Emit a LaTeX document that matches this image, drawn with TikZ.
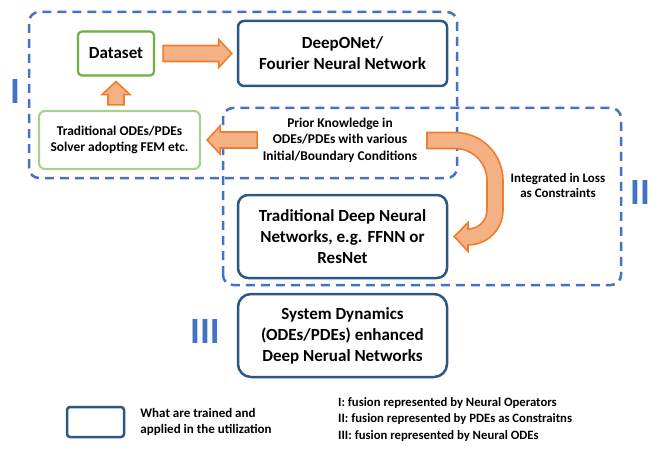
\documentclass[tikz,border=0pt]{standalone}
\usepackage{fontspec}
\setmainfont{Carlito}
\usetikzlibrary{calc}
\usetikzlibrary{positioning}

\definecolor{boxblue}{HTML}{2B5783}
\definecolor{dashblue}{HTML}{4472C4}
\definecolor{datagreen}{HTML}{70AD47}
\definecolor{solvergreen}{HTML}{A9D18E}
\definecolor{arrowfill}{HTML}{F4B183}
\definecolor{arrowline}{HTML}{ED7D31}

\begin{document}
\begin{tikzpicture}[x=1pt, y=1pt, line join=round]
    \tikzset{
        trained/.style={draw=boxblue, line width=2.5pt, align=center, inner sep=0pt,
            minimum width=209pt, font=\bfseries\fontsize{17}{21}\selectfont},
        fusionbox/.style={draw=dashblue, line width=2.5pt, dash pattern=on 9pt off 6pt, rounded corners=10pt},
        note/.style={align=center, inner sep=0pt, font=\bfseries\fontsize{13.4}{16.4}\selectfont},
        numeral/.style={inner sep=0pt, text=dashblue, font=\bfseries\fontsize{37}{40}\selectfont},
        fatarrow/.style={draw=arrowline, fill=arrowfill, line width=1.6pt, line join=miter,
            to path={let \p1=(\tikztostart), \p2=(\tikztotarget), \p3=($(\p2)!13pt!(\p1)$) in
                ($(\p1)!8pt!90:(\p2)$) -- ($(\p3)!8pt!-90:(\p1)$) -- ($(\p3)!14pt!-90:(\p1)$) -- (\p2)
                -- ($(\p3)!14pt!90:(\p1)$) -- ($(\p3)!8pt!90:(\p1)$) -- ($(\p1)!8pt!-90:(\p2)$) -- cycle}}
    }
    \useasboundingbox (0,0) rectangle (655,448);

    % the two fusion regions
    \draw [fusionbox] (29,270) rectangle (457,436);
    \draw [fusionbox] (223,163) rectangle (621,340);
    \node [numeral] (num1) at (15,356) {I};
    \node [numeral] (num2) at (640,255) {II};
    \node [numeral] (num3) at (205,116) {III};

    \node [draw=datagreen, line width=2.2pt, rounded corners=4pt, minimum width=76pt, minimum height=44pt,
        inner sep=0pt, font=\bfseries\fontsize{17}{21}\selectfont] (dataset) at (116,394.5) {Dataset};
    \node [trained, rounded corners=6pt, minimum height=65pt] (deeponet) at (342.5,394.5) {DeepONet/\\Fourier Neural Network};
    \node [note, draw=solvergreen, line width=2.2pt, rounded corners=6pt, minimum width=161pt, minimum height=58pt]
        (solver) at (119.5,308) {Traditional ODEs/PDEs\\Solver adopting FEM etc.};
    \node [note] (prior) at (340,308) {Prior Knowledge in\\ODEs/PDEs with various\\Initial/Boundary Conditions};
    \node [trained, rounded corners=10pt, minimum height=83pt] (tdnn) at (342.5,211.5) {Traditional Deep Neural\\Networks, e.g. FFNN or\\ResNet};
    \node [trained, rounded corners=13pt, minimum height=83pt] (sysdyn) at (342.5,112.5) {System Dynamics\\(ODEs/PDEs) enhanced\\Deep Nerual Networks};
    \node [note, font=\bfseries\fontsize{13}{15}\selectfont] (loss) at (558,262.5) {Integrated in Loss\\as Constraints};

    \draw [fatarrow] ($(dataset.east)+(8,0)$) to ($(deeponet.west)+(-5,0)$);
    \draw [fatarrow] ($(solver.north -| dataset.south)+(0,5)$) to ($(dataset.south)+(0,-5)$);
    \draw [fatarrow] ($(solver.east)+(56,0)$) to ($(solver.east)+(6,0)$);

    % U-turn arrow into the loss
    \coordinate (bend tip) at ($(tdnn.east)+(6,0)$);
    \draw [draw=arrowline, fill=arrowfill, line width=1.6pt, line join=miter]
        (427,315.5) -- (455,315.5) arc (90:0:48) -- (503,238) arc (0:-90:35) -- (468,196.5)
        -- (bend tip) -- (468,225.5) -- (468,219) arc (-90:0:19) -- (487,267.5) arc (0:90:32) -- (427,299.5) -- cycle;

    % legend
    \node [draw=boxblue, line width=2.5pt, rounded corners=3pt, minimum width=57pt, minimum height=30pt] (legend) at (95.5,26) {};
    \node [note, align=left, font=\bfseries\fontsize{13}{16}\selectfont, right=15pt of legend] (legendtext) {What are trained and\\applied in the utilization};
    \node [note, align=left, anchor=west, font=\bfseries\fontsize{12.7}{16.5}\selectfont] (fusions) at (338,28.5)
        {I: fusion represented by Neural Operators\\II: fusion represented by PDEs as Constraitns\\III: fusion represented by Neural ODEs};
\end{tikzpicture}
\end{document}
